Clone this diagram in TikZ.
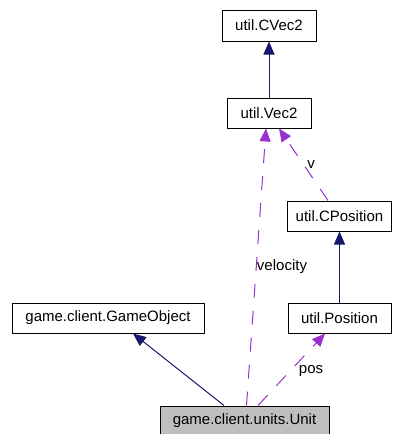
\documentclass[tikz,border=0pt]{standalone}
\usepackage{fontspec}
\setmainfont{Liberation Sans}
\usepackage{xcolor}
\usetikzlibrary{arrows.meta}
\definecolor{inherit}{RGB}{25,25,112}
\definecolor{usage}{RGB}{153,50,204}
\tikzset{
 classbox/.style={draw, line width=1pt, inner sep=0pt, minimum height=30pt, font=\fontsize{15}{18}\selectfont},
 inheritline/.style={line width=1pt, inherit, -{Triangle[length=13pt,width=11pt]}},
 usageline/.style={line width=1pt, usage, dash pattern=on 14pt off 13pt, -{Triangle[length=13pt,width=11pt]}},
 edgelabel/.style={font=\fontsize{15}{18}\selectfont, inner sep=0pt}
}

\begin{document}
\begin{tikzpicture}[x=1pt, y=-1pt]
 \useasboundingbox (0,0) rectangle (392,434);
%
 \node[classbox, minimum width=94pt, minimum height=31pt] (cvec) at (269,25.5) {util.CVec2};
 \node[classbox, minimum width=84pt] (vec) at (269,113) {util.Vec2};
 \node[classbox, minimum width=104pt] (cpos) at (339.5,216) {util.CPosition};
 \node[classbox, minimum width=103pt] (pos) at (339.5,318) {util.Position};
 \node[classbox, minimum width=192pt] (gobj) at (108,318) {game.client.GameObject};
 \node[classbox, minimum width=169pt, fill=black!25] (unit) at (244.5,421) {game.client.units.Unit};
%
 \draw[inheritline] (vec) -- (cvec);
 \draw[inheritline] (pos) -- (cpos);
 \draw[inheritline] ([xshift=-20.5pt]unit.north) -- ([xshift=25pt]gobj.south);
%
 \draw[usageline] ([xshift=-11.5pt]cpos.north) -- ([xshift=10pt]vec.south);
 \draw[usageline] ([xshift=2pt]unit.north) -- ([xshift=-3pt]vec.south);
 \draw[usageline] ([xshift=13.5pt]unit.north) -- ([xshift=-14.5pt]pos.south);
%
 \node[edgelabel] (vlabel) at (311,165) {v};
 \node[edgelabel] (velocitylabel) at (282,267) {velocity};
 \node[edgelabel] (poslabel) at (311,371) {pos};
\end{tikzpicture}
\end{document}
